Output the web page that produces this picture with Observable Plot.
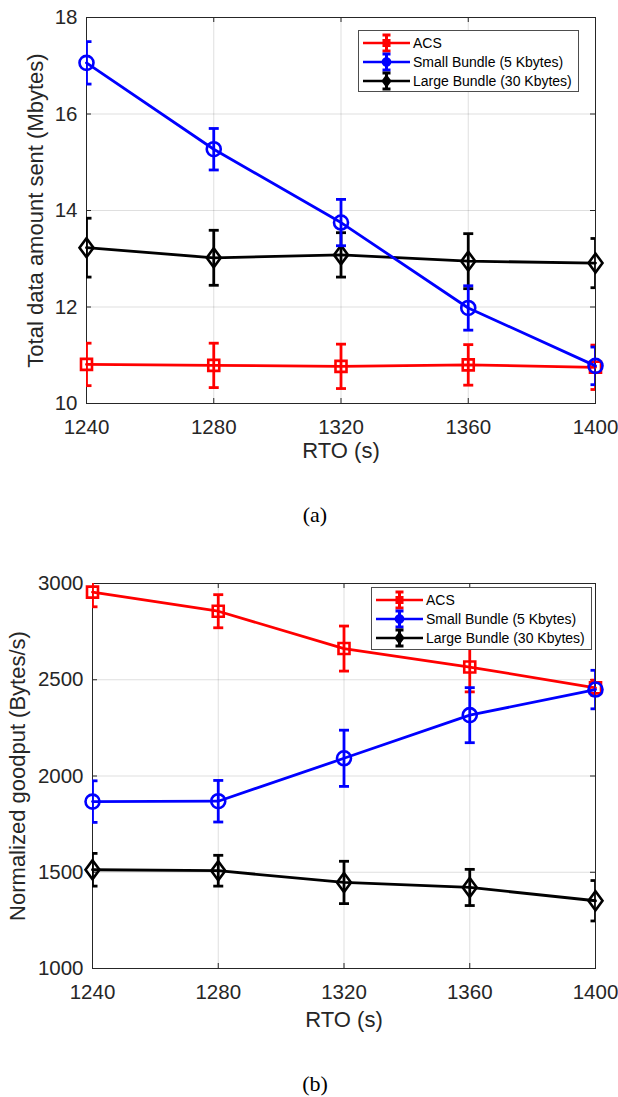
<!DOCTYPE html>
<html><head><meta charset="utf-8">
<script src="https://cdn.jsdelivr.net/npm/d3@7"></script>
<script src="https://cdn.jsdelivr.net/npm/@observablehq/plot@0.6"></script>
<style>
body{margin:0;background:#fff;width:618px;height:1097px;position:relative;overflow:hidden;font-family:"Liberation Sans",Arial,sans-serif}
.chart{position:absolute;left:0}
.cap{position:absolute;left:0;width:618px;text-align:center;font-family:"Liberation Serif","Times New Roman",serif;font-size:22px;line-height:26px;color:#000}
</style></head><body>
<div id="a" class="chart" style="top:0"></div>
<div class="cap" style="top:502px;padding-left:12px;box-sizing:border-box">(a)</div>
<div id="b" class="chart" style="top:530px"></div>
<div class="cap" style="top:1071px;padding-left:12px;box-sizing:border-box">(b)</div>
<script>
// ---- data ----
const rto = [1240, 1280, 1320, 1360, 1400];
const seriesNames = ["ACS", "Small Bundle (5 Kbytes)", "Large Bundle (30 Kbytes)"];
const seriesColors = ["#ff0000", "#0000ff", "#000000"];

// (a) Total data amount sent (Mbytes)
const sentTicks = [10, 12, 14, 16, 18];
const sentACS = [10.81, 10.79, 10.77, 10.80, 10.75];
const sentACSErr = [0.44, 0.46, 0.46, 0.42, 0.46];
const sentSmall = [17.06, 15.27, 13.75, 11.98, 10.78];
const sentSmallErr = [0.44, 0.43, 0.48, 0.46, 0.39];
const sentLarge = [13.23, 13.02, 13.08, 12.95, 12.91];
const sentLargeErr = [0.61, 0.57, 0.46, 0.57, 0.51];

// (b) Normalized goodput (Bytes/s)
const goodTicks = [1000, 1500, 2000, 2500, 3000];
const goodACS = [2955, 2856, 2662, 2566, 2458];
const goodACSErr = [76, 86, 117, 129, 40];
const goodSmall = [1867, 1869, 2092, 2316, 2449];
const goodSmallErr = [108, 108, 146, 143, 100];
const goodLarge = [1513, 1508, 1447, 1421, 1352];
const goodLargeErr = [85, 80, 110, 94, 105];

// ---- symbols (MATLAB-like open markers) ----
function sym(kind, k = 1) {
  return {draw(ctx) {
    if (kind === "square") { const s = 5.5 * k; ctx.moveTo(-s, -s); ctx.lineTo(s, -s); ctx.lineTo(s, s); ctx.lineTo(-s, s); ctx.closePath(); }
    else if (kind === "circle") { const r = 7 * k; ctx.moveTo(r, 0); ctx.arc(0, 0, r, 0, 2 * Math.PI); ctx.closePath(); }
    else if (kind === "diamond") { const w = 7 * k, h = 9.5 * k; ctx.moveTo(0, -h); ctx.lineTo(w, 0); ctx.lineTo(0, h); ctx.lineTo(-w, 0); ctx.closePath(); }
    else if (kind === "cap") { const w = 5 * k; ctx.moveTo(-w, 0); ctx.lineTo(w, 0); }
  }};
}
const kinds = ["square", "circle", "diamond"];
const FONT = '"Liberation Sans", Arial, sans-serif';
const INK = "#262626";

function rows(vals, errs) {
  return rto.map((x, i) => ({x, y: vals[i], lo: vals[i] - errs[i], hi: vals[i] + errs[i]}));
}

function makeChart({series, yDomain, yTicks, yLabel, height, mt, mb, ml, mr, yLabelDx, xLabelDy, legendBox}) {
  const W = 618;
  const pw = W - ml - mr, ph = height - mt - mb;
  const order = [0, 2, 1]; // blue drawn on top
  const marks = [
    Plot.gridX(rto, {stroke: INK, strokeOpacity: 0.15, strokeWidth: 1}),
    Plot.gridY(yTicks, {stroke: INK, strokeOpacity: 0.15, strokeWidth: 1}),
    Plot.tickX(rto, {x: d => d, insetTop: ph - 5, stroke: INK}),
    Plot.tickX(rto, {x: d => d, insetBottom: ph - 5, stroke: INK}),
    Plot.tickY(yTicks, {y: d => d, insetRight: pw - 5, stroke: INK}),
    Plot.tickY(yTicks, {y: d => d, insetLeft: pw - 5, stroke: INK}),
    Plot.frame({stroke: INK, strokeWidth: 1}),
    Plot.axisX(rto, {tickSize: 0, tickPadding: 16, tickFormat: "d", label: null, fontSize: 20.5, fill: INK}),
    Plot.axisY(yTicks, {tickSize: 0, tickPadding: 9, tickFormat: "d", label: null, fontSize: 20.5, fill: INK}),
    Plot.text(["RTO (s)"], {text: d => d, frameAnchor: "bottom", dy: xLabelDy, fontSize: 22, fill: INK, textAnchor: "middle"}),
    Plot.text([yLabel], {text: d => d, frameAnchor: "left", rotate: -90, dx: yLabelDx, fontSize: 22, fill: INK, textAnchor: "middle", lineAnchor: "middle"})
  ];
  for (const i of order) {
    const d = series[i], c = seriesColors[i];
    marks.push(
      Plot.line(d, {x: "x", y: "y", stroke: c, strokeWidth: 2.8}),
      Plot.ruleX(d, {x: "x", y1: "lo", y2: "hi", stroke: c, strokeWidth: 2.8, clip: true}),
      Plot.dot(d, {x: "x", y: "lo", symbol: sym("cap"), stroke: c, fill: "none", strokeWidth: 2.8, clip: true}),
      Plot.dot(d, {x: "x", y: "hi", symbol: sym("cap"), stroke: c, fill: "none", strokeWidth: 2.8, clip: true}),
      Plot.dot(d, {x: "x", y: "y", symbol: sym(kinds[i]), stroke: c, fill: "none", strokeWidth: 2.6})
    );
  }
  const svg = Plot.plot({
    width: W, height, marginTop: mt, marginBottom: mb, marginLeft: ml, marginRight: mr,
    style: {fontFamily: FONT, fontSize: "21px", background: "white", overflow: "visible", color: INK},
    x: {domain: [1240, 1400]},
    y: {domain: yDomain},
    marks
  });
  // legend
  const [bx, by, bw, bh] = legendBox;
  const g = d3.select(svg).append("g");
  g.append("rect").attr("x", bx + 0.5).attr("y", by + 0.5).attr("width", bw).attr("height", bh)
    .attr("fill", "white").attr("stroke", "#4d4d4d").attr("stroke-width", 1);
  seriesNames.forEach((name, i) => {
    const cy = by + 13 + 19 * i, c = seriesColors[i], cx = bx + 28.5;
    g.append("line").attr("x1", bx + 5).attr("x2", bx + 52).attr("y1", cy).attr("y2", cy).attr("stroke", c).attr("stroke-width", 2.7);
    g.append("line").attr("x1", cx).attr("x2", cx).attr("y1", cy - 8).attr("y2", cy + 8).attr("stroke", c).attr("stroke-width", 3);
    g.append("line").attr("x1", cx - 4).attr("x2", cx + 4).attr("y1", cy - 8).attr("y2", cy - 8).attr("stroke", c).attr("stroke-width", 3);
    g.append("line").attr("x1", cx - 4).attr("x2", cx + 4).attr("y1", cy + 8).attr("y2", cy + 8).attr("stroke", c).attr("stroke-width", 3);
    const p = d3.path(); sym(kinds[i], 0.55).draw(p);
    g.append("path").attr("d", p.toString()).attr("transform", `translate(${cx},${cy})`).attr("fill", c).attr("stroke", c).attr("stroke-width", 2);
    g.append("text").attr("x", bx + 55).attr("y", cy).attr("dy", "0.35em").attr("text-anchor", "start")
      .attr("font-size", 14).attr("fill", "#000").attr("font-family", FONT).text(name);
  });
  return svg;
}

document.getElementById("a").append(makeChart({
  series: [rows(sentACS, sentACSErr), rows(sentSmall, sentSmallErr), rows(sentLarge, sentLargeErr)],
  yDomain: [10, 18], yTicks: sentTicks, yLabel: "Total data amount sent (Mbytes)",
  height: 470, mt: 17, mb: 67, ml: 86, mr: 23, yLabelDx: -51, xLabelDy: 54,
  legendBox: [358, 30, 220, 61]
}));
document.getElementById("b").append(makeChart({
  series: [rows(goodACS, goodACSErr), rows(goodSmall, goodSmallErr), rows(goodLarge, goodLargeErr)],
  yDomain: [1000, 3000], yTicks: goodTicks, yLabel: "Normalized goodput (Bytes/s)",
  height: 520, mt: 53, mb: 82, ml: 92, mr: 23, yLabelDx: -75, xLabelDy: 58,
  legendBox: [371, 57, 220, 62]
}));
</script>
</body></html>
